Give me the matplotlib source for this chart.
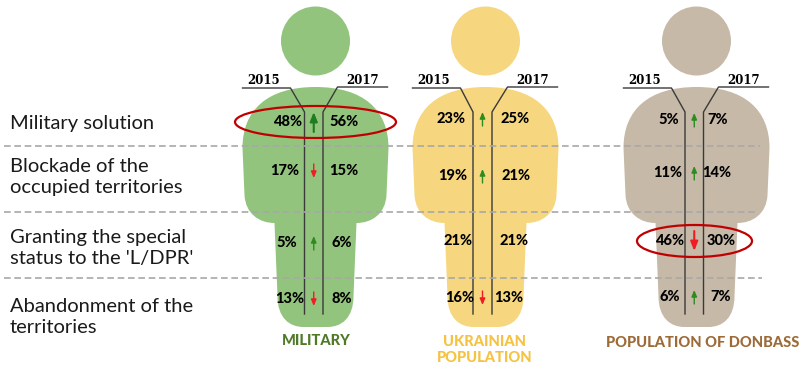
import matplotlib
matplotlib.use("Agg")
import matplotlib.pyplot as plt
from matplotlib.path import Path
from matplotlib.patches import PathPatch, Circle, Ellipse

plt.rcParams['font.family'] = ['Lato', 'DejaVu Sans']

categories = ["Military solution", "Blockade of the\noccupied territories",
              "Granting the special\nstatus to the 'L/DPR'", "Abandonment of the\nterritories"]
years = ["2015", "2017"]
military_2015 = [48, 17, 5, 13]
military_2017 = [56, 15, 6, 8]
ukrainian_2015 = [23, 19, 21, 16]
ukrainian_2017 = [25, 21, 21, 13]
donbass_2015 = [5, 11, 46, 6]
donbass_2017 = [7, 14, 30, 7]

fig = plt.figure(figsize=(8.04, 3.72), dpi=100)
ax = fig.add_axes([0, 0, 1, 1])
ax.set_xlim(0, 804)
ax.set_ylim(372, 0)
ax.axis("off")


def person(cx, color):
    ax.add_patch(Circle((cx, 41), 34.5, color=color, lw=0, zorder=1))
    right = [(cx, 87), (cx + 48, 87), (cx + 73, 110), (cx + 73, 148),
             (cx + 71, 195), (cx + 70, 214), (cx + 56, 223), (cx + 41, 223),
             (cx + 38, 296), (cx + 38, 318), (cx + 26, 327), (cx + 12, 327)]
    codes_r = [Path.MOVETO, Path.CURVE4, Path.CURVE4, Path.CURVE4,
               Path.LINETO, Path.CURVE4, Path.CURVE4, Path.CURVE4,
               Path.LINETO, Path.CURVE4, Path.CURVE4, Path.CURVE4]
    left = [(2 * cx - x, y) for x, y in right[::-1]]
    codes_l = [Path.LINETO, Path.CURVE4, Path.CURVE4, Path.CURVE4,
               Path.LINETO, Path.CURVE4, Path.CURVE4, Path.CURVE4,
               Path.LINETO, Path.CURVE4, Path.CURVE4, Path.CURVE4]
    ax.add_patch(PathPatch(Path(right + left, codes_r + codes_l), fc=color, lw=0, zorder=1))


def panel(cx, color, vals0, vals1, rows, xl, xr, x0, x1, big=None):
    person(cx, color)
    # 2015 / 2017 leader lines
    ax.plot([cx - 73, cx - 25, x0, x0], [88, 88, 112, 314], color="#3a3a3a", lw=1.0, zorder=2)
    ax.plot([cx + 72, cx + 22, x1, x1], [87, 87, 112, 314], color="#3a3a3a", lw=1.0, zorder=2)
    ax.text(cx - 52, 81, years[0], family="DejaVu Serif", weight="bold", fontsize=8.5,
            ha="center", va="center", zorder=3)
    ax.text(cx + 47, 81, years[1], family="DejaVu Serif", weight="bold", fontsize=8.5,
            ha="center", va="center", zorder=3)
    xm = (x0 + x1) / 2
    for i in range(4):
        ax.text(xl[i], rows[i], "%d%%" % vals0[i], weight="black", fontsize=10.5,
                ha="center", va="center", zorder=4)
        ax.text(xr[i], rows[i], "%d%%" % vals1[i], weight="black", fontsize=10.5,
                ha="center", va="center", zorder=4)
        diff = vals1[i] - vals0[i]
        if diff == 0:
            continue
        h = 10 if i == big else 7
        col = "#2e8b1e" if diff > 0 else "#f01c24"
        if i == big and diff > 0:
            col = "#1e7d1e"
        start, end = (rows[i] + h, rows[i] - h) if diff > 0 else (rows[i] - h, rows[i] + h)
        ax.annotate("", xy=(xm, end), xytext=(xm, start), zorder=4,
                    arrowprops=dict(arrowstyle="-|>,head_width=0.16,head_length=0.38" if i != big
                                    else "-|>,head_width=0.22,head_length=0.55",
                                    color=col, lw=1.0 if i != big else 1.5,
                                    shrinkA=0, shrinkB=0))


panel(315.5, "#93c47d", military_2015, military_2017, [122, 171, 243, 299],
      [288, 285, 287, 290], [344, 344, 342, 342], 304.5, 323, big=0)
panel(485.5, "#f6d77f", ukrainian_2015, ukrainian_2017, [119, 176, 241, 298],
      [451, 453, 458, 460], [515, 516, 514, 509], 473, 492)
panel(696.5, "#c6b9a8", donbass_2015, donbass_2017, [120, 173, 241, 297],
      [669, 668, 670, 670], [718, 717, 721, 721], 685, 703.5, big=2)

# row separators
for y, x_end in zip([146, 212, 278], [760, 757, 762]):
    ax.plot([4, x_end], [y, y], color="#a8a8a8", lw=1.2, dashes=(4, 2.2), zorder=3)

# highlighted rings
ax.add_patch(Ellipse((315.5, 122), 161, 32, fc="none", ec="#c00000", lw=1.6, zorder=5))
ax.add_patch(Ellipse((694.5, 241), 115, 32, fc="none", ec="#c00000", lw=1.6, zorder=5))

label_y = [123, 177, 248, 317]
for name, y in zip(categories, label_y):
    ax.text(10, y, name, fontsize=14.5, color="#1a1a1a", ha="left", va="center", linespacing=1.3)

ax.text(316, 341, "MILITARY", color="#4f7a28", weight="black", fontsize=10.5, ha="center", va="center")
ax.text(485, 350, "UKRAINIAN\nPOPULATION", color="#f5c242", weight="black", fontsize=10.5,
        ha="center", va="center", linespacing=1.1)
ax.text(703, 343, "POPULATION OF DONBASS", color="#9c6b38", weight="black", fontsize=10.5,
        ha="center", va="center")

fig.savefig("out.png", dpi=100)
